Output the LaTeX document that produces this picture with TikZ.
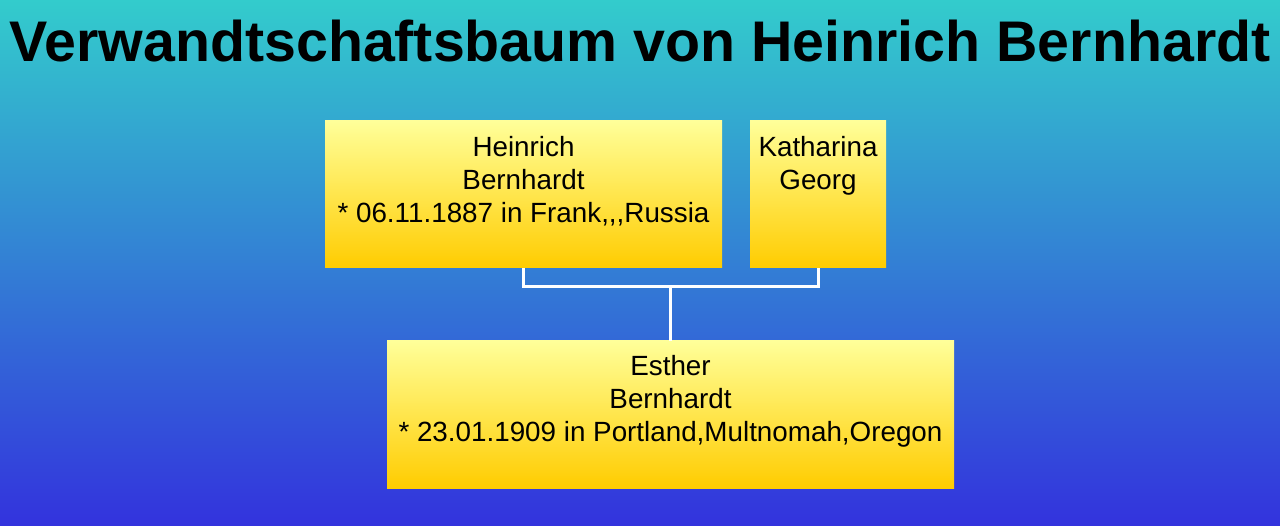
\documentclass[tikz,border=0pt]{standalone}
\usepackage{fontspec}
\setmainfont{Liberation Sans}
\usetikzlibrary{positioning}

\definecolor{bgtop}{HTML}{33CCCC}
\definecolor{bgbot}{HTML}{3333DD}
\definecolor{boxtop}{HTML}{FFFF99}
\definecolor{boxbot}{HTML}{FFCC00}

\begin{document}
\begin{tikzpicture}[x=1pt,y=1pt,
  person/.style={top color=boxtop,bottom color=boxbot,inner sep=0pt,
    align=center,minimum height=147pt,text height=102pt,text depth=45pt,
    font=\fontsize{27.8}{33}\selectfont},
  link/.style={draw=white,line width=3pt}]
\shade[top color=bgtop,bottom color=bgbot](0,0) rectangle (1280,525);
\useasboundingbox (0,0) rectangle (1280,525);
\node[anchor=base,font=\fontsize{57.3}{66}\selectfont\bfseries](title) at (640,463){Verwandtschaftsbaum von Heinrich Bernhardt};
\node[person,minimum width=397pt](heinrich) at (523.5,330.5){Heinrich\\Bernhardt\\* 06.11.1887 in Frank{,}{,}{,}Russia};
\node[person,minimum width=136pt,text height=69pt,text depth=78pt](katharina) at (818,330.5){Katharina\\Georg};
\node[person,minimum width=567pt,text height=101pt,text depth=46pt](esther) at (670.5,110.5){Esther\\Bernhardt\\* 23.01.1909 in Portland,Multnomah,Oregon};
\coordinate(bar) at (670.5,238);
\draw[link](heinrich.south) |- (bar) -| (katharina.south);
\draw[link](bar)--(esther.north);
\end{tikzpicture}
\end{document}
